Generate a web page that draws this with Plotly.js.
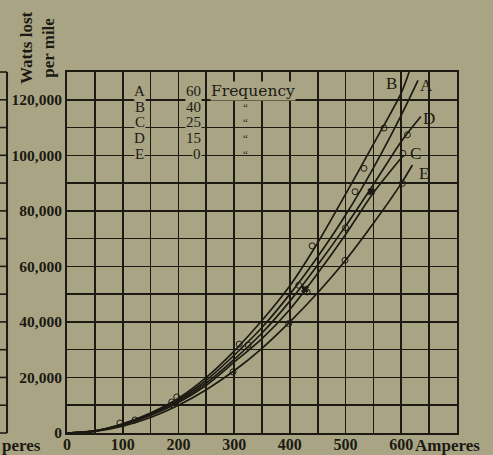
<!DOCTYPE html>
<html>
<head>
<meta charset="utf-8">
<script src="https://cdn.plot.ly/plotly-3.0.1.min.js"></script>
<style>
  html, body { margin: 0; padding: 0; background: #a9a584; }
  #chart { width: 493px; height: 455px; }
</style>
</head>
<body>
<div id="chart"></div>
<script>
// ---- Data (Amperes vs Watts lost per mile) ----
const curveNames = ["A", "B", "C", "D", "E"];
const frequencies = ["60", "40", "25", "15", "0"];

const currentA = [0, 50, 100, 150, 200, 250, 300, 350, 400, 450, 500, 550, 600, 630];
const wattsA   = [0, 750, 3200, 7000, 12000, 19000, 28000, 38000, 50000, 63500, 78500, 95500, 114500, 127000];

const currentB = [0, 50, 100, 150, 200, 250, 300, 350, 400, 450, 500, 550, 600, 614];
const wattsB   = [0, 800, 3300, 7200, 12500, 20000, 29500, 40500, 53000, 68500, 86000, 104000, 122500, 130000];

const currentC = [0, 50, 100, 150, 200, 250, 300, 350, 400, 450, 500, 550, 604];
const wattsC   = [0, 700, 2900, 6300, 11000, 17200, 25500, 34000, 44500, 57500, 71500, 86500, 100000];

const currentD = [0, 50, 100, 150, 200, 250, 300, 350, 400, 450, 500, 550, 600, 635];
const wattsD   = [0, 700, 3000, 6600, 11500, 18000, 26500, 36000, 47500, 60500, 74500, 89500, 105000, 114000];

const currentE = [0, 50, 100, 150, 200, 250, 300, 350, 400, 450, 500, 550, 600, 620];
const wattsE   = [0, 600, 2500, 5600, 10000, 15600, 22400, 30500, 40000, 50500, 62200, 75500, 89900, 96500];

// observed points (open circles) and cross marks
const obsCurrent = [95, 122, 188, 197, 190, 298, 309, 325, 398, 416, 431, 440, 499, 500, 517, 533, 569, 602, 603, 611];
const obsWatts   = [3600, 4700, 11200, 13000, 10100, 22000, 32000, 31700, 39400, 53200, 50800, 67400, 62200, 73900, 86900, 95300, 109800, 89900, 100700, 107400];
const crossCurrent = [427, 546];
const crossWatts   = [51800, 86900];

// curve end labels (position near the end of each curve)
const labelCurrent = [646, 583, 626, 650, 641];
const labelWatts   = [125300, 126000, 100500, 113400, 93300];

// axis ticks
const xGridVals = [0, 50, 100, 150, 200, 250, 300, 350, 400, 450, 500, 550, 600, 650, 700];
const xTickLabels = {0: "0", 100: "100", 200: "200", 300: "300", 400: "400", 500: "500", 600: "600"};
const yGridVals = [0, 10000, 20000, 30000, 40000, 50000, 60000, 70000, 80000, 90000, 100000, 110000, 120000, 130000];
const yTickLabels = {0: "0", 20000: "20,000", 40000: "40,000", 60000: "60,000", 80000: "80,000", 100000: "100,000", 120000: "120,000"};

// legend table rows (watts level of each row)
const tableRowWatts = [123200, 117400, 112000, 106200, 100500];

// ---- Styling ----
const ink = "#1c1a12";
const bg = "#a9a584";
const serif = "Liberation Serif, Times New Roman, serif";
const wideSerif = "DejaVu Serif, serif";

const curves = [
  [currentA, wattsA], [currentB, wattsB], [currentC, wattsC], [currentD, wattsD], [currentE, wattsE]
];

const traces = curves.map((c, i) => ({
  x: c[0], y: c[1], type: "scatter", mode: "lines", name: curveNames[i],
  line: {color: ink, width: 1.7, shape: "spline", smoothing: 0.8},
  hoverinfo: "skip", showlegend: false
}));

traces.push({
  x: obsCurrent, y: obsWatts, type: "scatter", mode: "markers",
  marker: {symbol: "circle-open", size: 6, color: ink, line: {width: 1, color: ink}},
  hoverinfo: "skip", showlegend: false
});
traces.push({
  x: crossCurrent, y: crossWatts, type: "scatter", mode: "markers",
  marker: {symbol: "x", size: 6, color: ink, line: {width: 1, color: ink}},
  hoverinfo: "skip", showlegend: false
});

const annotations = [];
// curve labels
curveNames.forEach((n, i) => {
  annotations.push({x: labelCurrent[i], y: labelWatts[i], xref: "x", yref: "y", text: n,
    showarrow: false, font: {family: serif, size: 17, color: ink}});
});
// legend table
const tFont = {family: serif, size: 15, color: ink};
curveNames.forEach((n, i) => {
  annotations.push({x: 131, y: tableRowWatts[i], xref: "x", yref: "y", text: n,
    showarrow: false, font: tFont, bgcolor: bg, borderpad: 0});
  annotations.push({x: 242, y: tableRowWatts[i], xref: "x", yref: "y", text: frequencies[i],
    xanchor: "right", showarrow: false, font: tFont, bgcolor: bg, borderpad: 0});
  if (i === 0) {
    annotations.push({x: 257, y: tableRowWatts[i], xref: "x", yref: "y", text: "Frequency",
      xanchor: "left", showarrow: false, font: {family: wideSerif, size: 15.5, color: ink}, bgcolor: bg, borderpad: 0});
  } else {
    annotations.push({x: 320, y: tableRowWatts[i], xref: "x", yref: "y", text: "\u201C",
      showarrow: false, font: {family: serif, size: 11, color: ink}});
  }
});
// axis titles
annotations.push({x: -0.077, y: 1.069, xref: "paper", yref: "paper", text: "Watts lost<br>per mile",
  xanchor: "center", yanchor: "middle",
  textangle: -90, showarrow: false, font: {family: serif, size: 17, color: ink, weight: "bold"}});
annotations.push({x: 0.888, y: -0.036, xref: "paper", yref: "paper", text: "Amperes",
  xanchor: "left", yanchor: "middle", showarrow: false, font: {family: serif, size: 17, color: ink, weight: "bold"}});
annotations.push({x: -0.172, y: -0.036, xref: "paper", yref: "paper", text: "peres",
  xanchor: "left", yanchor: "middle", showarrow: false, font: {family: serif, size: 17, color: ink, weight: "bold"}});

// remnant of the neighbouring chart at the far left
const shapes = [{type: "line", xref: "paper", yref: "paper", x0: -0.1538, x1: -0.1538, y0: 0, y1: 1,
  line: {color: ink, width: 2}}];
yGridVals.forEach(v => {
  shapes.push({type: "line", xref: "paper", yref: "paper", x0: -0.175, x1: -0.1538,
    y0: v / 130000, y1: v / 130000, line: {color: ink, width: 1.6}});
});

const layout = {
  width: 493, height: 455,
  margin: {l: 67, r: 36, t: 72, b: 22},
  paper_bgcolor: bg, plot_bgcolor: bg,
  showlegend: false,
  xaxis: {
    range: [0, 700], tickmode: "array", tickvals: xGridVals,
    ticktext: xGridVals.map(v => xTickLabels[v] || ""),
    showgrid: true, gridcolor: ink, gridwidth: 1.6,
    showline: true, linecolor: ink, linewidth: 2, mirror: true,
    zeroline: false, ticks: "", fixedrange: true, ticklabelstandoff: -4,
    tickfont: {family: serif, size: 16, color: ink, weight: "bold"}
  },
  yaxis: {
    range: [0, 130000], tickmode: "array", tickvals: yGridVals,
    ticktext: yGridVals.map(v => yTickLabels[v] || ""),
    showgrid: true, gridcolor: ink, gridwidth: 1.6,
    showline: true, linecolor: ink, linewidth: 2, mirror: true,
    zeroline: false, ticks: "", fixedrange: true,
    tickfont: {family: serif, size: 15.5, color: ink, weight: "bold"}
  },
  annotations: annotations,
  shapes: shapes
};

Plotly.newPlot("chart", traces, layout, {staticPlot: true, displayModeBar: false});
</script>
</body>
</html>
